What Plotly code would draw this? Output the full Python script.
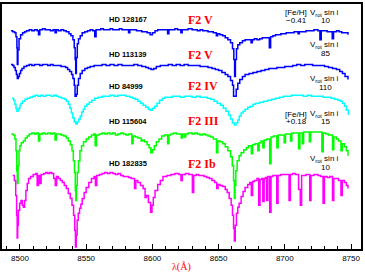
import plotly.graph_objects as go

# ---------------- data (wavelength in Angstrom, normalised flux) ----------------
stars = ["HD 128167", "HD 113139", "HD 84999", "HD 115604", "HD 182835"]
sptypes = ["F2 V", "F2 V", "F2 IV", "F2 III", "F2 Ib"]
vsini = ["10", "85", "110", "15", "10"]
feh = ["\u22120.41", None, None, "+0.18", None]
offsets = [1.20, 0.85, 0.54, 0.16, -0.24]
colors = ["#0000ff", "#0000ff", "#00ffff", "#00ff00", "#ff00ff"]

w1 = [8493.2, 8494.5, 8496.0, 8497.0, 8497.7, 8498.0, 8498.5, 8499.3, 8500.5, 8502.0, 8503.5, 8505.0,
      8507.0, 8509.0, 8511.0, 8513.0, 8514.0, 8515.0, 8517.0, 8519.0, 8521.0, 8523.0, 8525.0, 8526.5,
      8527.5, 8529.0, 8531.0, 8533.0, 8535.0, 8537.0, 8538.5, 8540.0, 8541.0, 8541.7, 8542.1, 8542.6,
      8543.3, 8544.2, 8545.5, 8547.0, 8549.0, 8551.0, 8553.0, 8555.0, 8556.5, 8557.5, 8559.0, 8561.0,
      8563.0, 8566.0, 8568.0, 8570.0, 8572.0, 8575.0, 8577.0, 8579.0, 8582.0, 8583.0, 8585.0, 8588.0,
      8590.0, 8592.0, 8594.0, 8596.0, 8598.3, 8600.0, 8602.0, 8604.0, 8607.0, 8609.0, 8611.5, 8612.5,
      8614.0, 8617.0, 8619.0, 8621.5, 8622.5, 8625.0, 8627.0, 8630.0, 8632.0, 8634.0, 8636.0, 8638.0,
      8640.0, 8642.0, 8644.0, 8646.0, 8648.3, 8649.3, 8651.0, 8653.0, 8655.0, 8657.0, 8659.0, 8660.5,
      8661.5, 8662.1, 8662.7, 8663.5, 8664.5, 8666.0, 8668.0, 8670.0, 8672.0, 8674.5, 8675.5, 8677.0,
      8679.0, 8681.0, 8683.0, 8685.0, 8688.3, 8689.3, 8691.0, 8693.0, 8695.0, 8697.0, 8699.0, 8701.0,
      8703.0, 8705.0, 8707.0, 8710.0, 8711.0, 8713.0, 8716.0, 8719.0, 8722.0, 8725.0, 8726.5, 8727.5,
      8730.0, 8732.0, 8735.8, 8736.8, 8739.0, 8741.0, 8743.0, 8745.0, 8747.7]
f1 = [1.00, 0.99, 0.98, 0.94, 0.83, 0.66, 0.81, 0.92, 0.96, 0.98, 0.99, 1.00,
      1.01, 1.00, 1.01, 1.00, 0.96, 1.01, 1.02, 1.01, 1.01, 1.00, 1.01, 0.98,
      1.01, 1.00, 1.01, 1.00, 0.99, 0.97, 0.95, 0.91, 0.83, 0.71, 0.57, 0.73,
      0.87, 0.92, 0.95, 0.98, 0.99, 1.00, 1.01, 1.00, 0.94, 1.01, 1.01, 1.02,
      1.01, 1.01, 1.02, 1.01, 1.01, 1.02, 1.01, 1.01, 0.98, 1.01, 1.01, 1.00,
      1.00, 0.99, 0.99, 0.98, 0.96, 0.98, 1.00, 1.01, 1.01, 1.01, 0.97, 1.01,
      1.01, 1.02, 1.01, 0.98, 1.01, 1.01, 1.02, 1.01, 1.01, 1.00, 1.01, 1.00,
      1.00, 0.99, 0.99, 0.98, 0.95, 0.97, 0.96, 0.95, 0.93, 0.91, 0.88, 0.82,
      0.71, 0.54, 0.71, 0.82, 0.86, 0.88, 0.90, 0.91, 0.91, 0.88, 0.91, 0.92,
      0.91, 0.92, 0.93, 0.93, 0.83, 0.94, 0.95, 0.96, 0.96, 0.97, 0.97, 0.98,
      0.98, 0.98, 0.99, 0.97, 0.99, 0.99, 1.00, 1.00, 1.01, 1.00, 0.91, 1.00,
      1.00, 0.99, 0.92, 0.99, 1.00, 0.99, 0.98, 0.98, 0.96]

w2 = [8493.2, 8494.5, 8495.5, 8496.5, 8497.3, 8498.0, 8498.8, 8499.6, 8500.5, 8501.5, 8503.0, 8505.0,
      8507.0, 8509.0, 8511.0, 8513.0, 8515.0, 8517.0, 8519.0, 8521.0, 8523.0, 8525.0, 8527.0, 8529.0,
      8531.0, 8533.0, 8534.5, 8536.0, 8537.5, 8539.0, 8540.0, 8541.0, 8541.6, 8542.6, 8543.3, 8544.2,
      8545.5, 8547.0, 8549.0, 8551.0, 8553.0, 8556.0, 8559.0, 8562.0, 8565.0, 8568.0, 8571.0, 8574.0,
      8577.0, 8580.0, 8583.0, 8586.0, 8589.0, 8592.0, 8595.0, 8597.0, 8599.0, 8601.0, 8603.0, 8606.0,
      8609.0, 8612.0, 8615.0, 8618.0, 8621.0, 8624.0, 8627.0, 8630.0, 8633.0, 8636.0, 8639.0, 8642.0,
      8645.0, 8647.5, 8650.0, 8652.5, 8655.0, 8657.0, 8659.0, 8660.5, 8661.3, 8662.5, 8663.3, 8664.5,
      8666.0, 8668.0, 8670.0, 8673.0, 8676.0, 8679.0, 8682.0, 8685.0, 8688.0, 8691.0, 8694.0, 8697.0,
      8700.0, 8703.0, 8706.0, 8709.0, 8712.0, 8715.0, 8718.0, 8721.0, 8724.0, 8727.0, 8730.0, 8733.0,
      8736.0, 8739.0, 8741.5, 8743.5, 8745.5, 8747.7]
f2 = [1.01, 1.00, 0.98, 0.95, 0.91, 0.87, 0.89, 0.92, 0.95, 0.97, 0.99, 1.00,
      1.01, 1.00, 1.01, 1.01, 1.00, 1.01, 1.01, 1.00, 1.01, 1.00, 1.00, 1.00,
      0.99, 0.99, 0.98, 0.96, 0.94, 0.91, 0.87, 0.80, 0.69, 0.71, 0.80, 0.87,
      0.92, 0.95, 0.97, 0.98, 0.99, 1.00, 1.00, 1.01, 1.00, 1.01, 1.00, 1.01,
      1.00, 1.00, 1.00, 1.01, 1.00, 0.99, 0.98, 0.97, 0.96, 0.97, 0.99, 1.00,
      1.00, 1.01, 1.00, 1.01, 1.00, 1.01, 1.00, 1.00, 1.00, 0.99, 0.99, 0.98,
      0.97, 0.96, 0.95, 0.93, 0.91, 0.89, 0.85, 0.80, 0.69, 0.69, 0.76, 0.82,
      0.86, 0.89, 0.91, 0.92, 0.93, 0.94, 0.95, 0.96, 0.97, 0.97, 0.98, 0.98,
      0.99, 0.99, 1.00, 1.01, 1.00, 1.01, 1.01, 1.00, 1.00, 1.00, 0.99, 0.98,
      0.97, 0.96, 0.94, 0.92, 0.89, 0.86]

w3 = [8494.0, 8495.2, 8496.2, 8497.0, 8497.7, 8498.5, 8499.2, 8500.0, 8500.8, 8502.0, 8503.8, 8505.5,
      8507.5, 8509.5, 8511.5, 8513.5, 8515.5, 8517.5, 8519.5, 8521.5, 8523.5, 8525.5, 8527.5, 8529.5,
      8531.5, 8533.5, 8535.0, 8536.5, 8537.7, 8538.8, 8539.9, 8541.0, 8542.2, 8543.3, 8544.4, 8545.5,
      8546.6, 8547.8, 8549.0, 8550.5, 8552.3, 8554.2, 8556.5, 8559.0, 8562.0, 8565.0, 8568.0, 8571.0,
      8574.0, 8577.0, 8580.0, 8583.0, 8585.0, 8587.0, 8589.0, 8591.0, 8593.0, 8595.0, 8597.0, 8598.5,
      8600.0, 8601.7, 8603.5, 8605.4, 8607.5, 8609.5, 8612.0, 8615.0, 8618.0, 8621.0, 8624.0, 8627.0,
      8630.0, 8633.0, 8636.0, 8639.0, 8641.5, 8644.0, 8646.5, 8649.0, 8651.5, 8653.5, 8655.5, 8657.5,
      8659.0, 8660.4, 8661.9, 8663.2, 8664.4, 8665.6, 8667.0, 8668.5, 8670.0, 8672.0, 8674.0, 8676.0,
      8678.0, 8681.0, 8684.0, 8687.0, 8690.0, 8693.0, 8696.0, 8699.0, 8702.0, 8705.0, 8708.0, 8711.0,
      8714.0, 8717.0, 8720.0, 8723.0, 8726.0, 8729.0, 8732.0, 8735.0, 8737.5, 8740.0, 8742.0, 8743.5,
      8745.0, 8746.5, 8748.0]
f3 = [0.98, 0.96, 0.92, 0.88, 0.85, 0.86, 0.88, 0.91, 0.93, 0.95, 0.97, 0.98,
      0.99, 1.00, 1.01, 1.00, 1.01, 1.00, 1.01, 1.01, 1.00, 1.01, 1.00, 0.99,
      0.98, 0.97, 0.95, 0.92, 0.88, 0.83, 0.78, 0.74, 0.72, 0.74, 0.77, 0.80,
      0.84, 0.87, 0.90, 0.92, 0.94, 0.96, 0.98, 0.99, 1.00, 1.00, 1.01, 1.00,
      1.01, 1.01, 1.00, 0.99, 0.98, 0.97, 0.95, 0.93, 0.91, 0.89, 0.87, 0.86,
      0.88, 0.90, 0.93, 0.96, 0.98, 0.99, 0.99, 1.00, 1.00, 0.99, 1.00, 1.00,
      0.99, 1.00, 0.99, 0.99, 0.98, 0.97, 0.95, 0.93, 0.91, 0.88, 0.85, 0.81,
      0.77, 0.73, 0.71, 0.73, 0.76, 0.80, 0.83, 0.85, 0.87, 0.89, 0.90, 0.92,
      0.93, 0.94, 0.95, 0.96, 0.97, 0.98, 0.99, 1.00, 1.00, 1.01, 1.01, 1.01,
      1.00, 1.01, 1.00, 1.00, 1.00, 0.99, 0.99, 0.98, 0.97, 0.96, 0.95, 0.93,
      0.90, 0.86, 0.81]

w4 = [8493.5, 8495.0, 8496.2, 8497.0, 8497.6, 8498.0, 8498.6, 8499.3, 8500.0, 8501.0, 8502.5, 8504.0,
      8505.5, 8507.0, 8509.0, 8511.0, 8512.5, 8514.0, 8515.0, 8517.0, 8519.0, 8521.0, 8523.0, 8525.0,
      8526.5, 8527.5, 8529.0, 8531.0, 8533.0, 8535.0, 8536.5, 8538.0, 8539.3, 8540.3, 8541.2, 8541.8,
      8542.2, 8542.7, 8543.3, 8544.2, 8545.3, 8546.5, 8548.0, 8550.0, 8552.0, 8554.0, 8555.8, 8556.8,
      8557.8, 8560.0, 8562.0, 8564.0, 8566.0, 8568.0, 8570.0, 8572.0, 8574.0, 8576.0, 8578.0, 8580.0,
      8582.0, 8584.5, 8585.5, 8587.0, 8589.0, 8591.5, 8592.5, 8594.0, 8596.0, 8597.5, 8598.8, 8600.0,
      8601.5, 8603.0, 8605.0, 8607.0, 8609.0, 8611.5, 8612.5, 8614.0, 8616.0, 8618.0, 8620.0, 8621.8,
      8622.8, 8624.2, 8625.2, 8627.0, 8630.0, 8632.0, 8634.0, 8636.0, 8638.0, 8640.0, 8642.0, 8644.0,
      8646.0, 8648.4, 8649.4, 8651.0, 8653.0, 8655.0, 8657.0, 8659.0, 8660.3, 8661.3, 8661.9, 8662.4,
      8663.0, 8664.0, 8665.5, 8667.0, 8669.0, 8671.0, 8672.5, 8674.7, 8675.7, 8677.5, 8679.6, 8680.6,
      8682.0, 8683.4, 8684.4, 8686.5, 8688.6, 8689.6, 8691.5, 8694.0, 8695.0, 8697.0, 8699.5, 8700.5,
      8702.5, 8704.3, 8705.3, 8707.5, 8710.4, 8711.4, 8713.2, 8714.2, 8716.0, 8718.5, 8719.5, 8722.0,
      8725.0, 8728.0, 8729.0, 8731.0, 8733.0, 8736.0, 8737.0, 8739.0, 8740.5, 8742.4, 8743.4, 8745.0,
      8746.5, 8747.7]
f4 = [1.00, 0.99, 0.95, 0.83, 0.63, 0.50, 0.68, 0.83, 0.88, 0.91, 0.93, 0.96,
      0.98, 1.00, 1.01, 1.00, 1.01, 0.93, 1.00, 1.01, 1.00, 1.01, 1.00, 1.01,
      0.94, 1.00, 1.00, 0.99, 0.98, 0.96, 0.93, 0.89, 0.83, 0.73, 0.61, 0.43,
      0.33, 0.48, 0.61, 0.73, 0.83, 0.88, 0.92, 0.95, 0.97, 0.99, 1.00, 0.88,
      0.99, 1.00, 1.01, 1.00, 1.01, 1.00, 1.01, 0.99, 1.00, 1.01, 1.00, 0.99,
      1.00, 0.90, 0.98, 0.97, 0.96, 0.93, 0.94, 0.92, 0.89, 0.86, 0.81, 0.84,
      0.88, 0.92, 0.95, 0.98, 0.99, 0.90, 0.99, 1.00, 1.01, 1.00, 1.00, 0.96,
      1.00, 0.97, 1.00, 1.01, 1.00, 1.01, 1.00, 0.99, 1.00, 0.99, 0.98, 0.97,
      0.95, 0.81, 0.93, 0.92, 0.90, 0.87, 0.83, 0.77, 0.68, 0.53, 0.35, 0.48,
      0.63, 0.73, 0.78, 0.81, 0.84, 0.86, 0.88, 0.80, 0.89, 0.90, 0.83, 0.91,
      0.93, 0.86, 0.94, 0.95, 0.70, 0.97, 0.98, 0.86, 0.99, 0.99, 0.91, 1.00,
      1.00, 0.93, 1.01, 1.01, 0.85, 1.01, 0.90, 1.02, 1.02, 0.92, 1.02, 1.02,
      1.02, 0.82, 1.01, 1.00, 0.99, 0.84, 0.97, 0.95, 0.93, 0.83, 0.90, 0.87,
      0.83, 0.78]

w5 = [8494.5, 8495.8, 8496.8, 8497.5, 8497.9, 8498.3, 8498.8, 8499.8, 8500.8, 8501.8, 8502.6, 8503.5,
      8504.5, 8505.5, 8506.5, 8508.0, 8510.0, 8512.0, 8513.0, 8514.0, 8515.0, 8516.0, 8518.0, 8519.5,
      8521.0, 8522.5, 8524.0, 8525.5, 8526.7, 8527.7, 8529.0, 8530.5, 8532.0, 8533.5, 8535.0, 8536.5,
      8538.0, 8539.3, 8540.5, 8541.4, 8541.9, 8542.5, 8543.2, 8544.0, 8545.0, 8546.0, 8547.0, 8548.5,
      8550.0, 8552.0, 8554.0, 8556.0, 8557.0, 8558.0, 8560.0, 8562.0, 8564.0, 8566.0, 8568.0, 8570.0,
      8572.0, 8574.0, 8576.0, 8578.0, 8580.0, 8582.0, 8584.0, 8586.5, 8587.5, 8589.0, 8591.0, 8593.0,
      8594.5, 8595.5, 8597.0, 8598.6, 8599.7, 8600.7, 8602.0, 8604.0, 8606.0, 8608.0, 8611.0, 8614.0,
      8617.0, 8620.0, 8621.6, 8622.6, 8625.0, 8627.5, 8630.2, 8631.2, 8633.0, 8635.0, 8637.0, 8639.0,
      8641.0, 8643.0, 8645.0, 8647.0, 8648.6, 8649.6, 8651.0, 8653.0, 8655.0, 8656.5, 8658.0, 8659.5,
      8660.5, 8661.3, 8661.9, 8662.6, 8663.5, 8664.5, 8665.5, 8667.0, 8668.5, 8670.0, 8672.0, 8673.5,
      8674.7, 8675.7, 8677.0, 8679.0, 8680.3, 8681.3, 8682.6, 8683.4, 8684.4, 8685.4, 8686.2, 8687.2,
      8688.6, 8689.6, 8691.0, 8693.9, 8694.9, 8697.0, 8699.0, 8701.0, 8703.2, 8704.2, 8706.0, 8708.0,
      8710.4, 8711.7, 8712.7, 8714.0, 8716.0, 8718.8, 8719.8, 8722.0, 8725.0, 8727.0, 8728.9, 8729.9,
      8732.0, 8734.0, 8736.0, 8737.0, 8739.0, 8740.5, 8742.4, 8743.4, 8745.0, 8746.5, 8747.7]
f5 = [0.98, 0.93, 0.78, 0.58, 0.35, 0.48, 0.63, 0.70, 0.73, 0.68, 0.66, 0.73,
      0.83, 0.90, 0.95, 0.97, 0.99, 1.00, 0.88, 0.98, 0.90, 0.99, 1.00, 1.01,
      1.00, 1.01, 1.00, 0.95, 0.88, 0.97, 0.95, 0.93, 0.91, 0.88, 0.85, 0.80,
      0.75, 0.68, 0.58, 0.43, 0.26, 0.38, 0.53, 0.60, 0.65, 0.69, 0.75, 0.81,
      0.86, 0.91, 0.95, 0.97, 0.88, 0.98, 0.99, 1.00, 1.01, 1.00, 1.01, 1.00,
      0.99, 1.00, 0.98, 0.97, 0.97, 0.96, 0.95, 0.85, 0.93, 0.91, 0.88, 0.85,
      0.76, 0.78, 0.71, 0.61, 0.68, 0.76, 0.83, 0.89, 0.93, 0.97, 0.98, 0.99,
      1.00, 0.99, 0.93, 0.99, 1.00, 0.99, 0.81, 0.98, 0.99, 0.98, 0.98, 0.97,
      0.96, 0.95, 0.93, 0.91, 0.85, 0.89, 0.88, 0.87, 0.84, 0.81, 0.75, 0.68,
      0.58, 0.45, 0.32, 0.48, 0.60, 0.66, 0.70, 0.77, 0.82, 0.86, 0.89, 0.91,
      0.78, 0.92, 0.93, 0.95, 0.68, 0.94, 0.95, 0.72, 0.95, 0.96, 0.73, 0.97,
      0.61, 0.97, 0.98, 0.70, 0.98, 0.99, 0.99, 0.99, 0.73, 0.99, 1.00, 0.99,
      0.84, 0.68, 0.98, 0.98, 0.99, 0.73, 0.98, 0.99, 0.98, 0.97, 0.70, 0.97,
      0.96, 0.97, 0.73, 0.95, 0.95, 0.93, 0.78, 0.93, 0.91, 0.88, 0.85]

waves = [w1, w2, w3, w4, w5]
fluxes = [f1, f2, f3, f4, f5]

# ---------------- figure ----------------
fig = go.Figure()
for w, f, off, col in zip(waves, fluxes, offsets, colors):
    fig.add_trace(go.Scatter(x=w, y=[v + off for v in f], mode="lines",
                             line=dict(color=col, width=1.5, shape="hv"),
                             showlegend=False, hoverinfo="skip"))

# label positions (data coordinates)
label_y = [2.31, 1.96, 1.64, 1.29, 0.86]
head_y = [2.38, 2.06, 1.71, 1.36, 0.91]
val_y = [2.30, 1.97, 1.625, 1.285, 0.82]

ann = []
for i in range(5):
    ann.append(dict(x=8566.0, y=label_y[i], text="<b>" + stars[i] + "</b>", showarrow=False,
                    xanchor="left", yanchor="middle",
                    font=dict(family="Liberation Sans", size=7.5, color="black")))
    ann.append(dict(x=8625.3, y=label_y[i], text="<b>" + sptypes[i] + "</b>", showarrow=False,
                    xanchor="left", yanchor="middle",
                    font=dict(family="Liberation Serif", size=12, color="#ff0000")))
    ann.append(dict(x=8730.0, y=head_y[i], text="V<sub>rot</sub> sin i", showarrow=False,
                    xanchor="center", yanchor="middle",
                    font=dict(family="Liberation Sans", size=8, color="black")))
    ann.append(dict(x=8730.5, y=val_y[i], text=vsini[i], showarrow=False,
                    xanchor="center", yanchor="middle",
                    font=dict(family="Liberation Sans", size=8, color="black")))
    if feh[i] is not None:
        ann.append(dict(x=8708.5, y=head_y[i], text="[Fe/H]", showarrow=False,
                        xanchor="center", yanchor="middle",
                        font=dict(family="Liberation Sans", size=8, color="black")))
        ann.append(dict(x=8708.5, y=val_y[i], text=feh[i], showarrow=False,
                        xanchor="center", yanchor="middle",
                        font=dict(family="Liberation Sans", size=8, color="black")))

ann.append(dict(x=0.5, y=-0.073, xref="paper", yref="paper", text="\u03bb(\u00c5)", showarrow=False,
                xanchor="center", yanchor="middle",
                font=dict(family="Liberation Serif", size=10, color="#ff0000")))

fig.update_layout(
    width=365, height=272,
    margin=dict(l=2, r=3, t=2, b=23),
    paper_bgcolor="white", plot_bgcolor="white",
    annotations=ann,
    xaxis=dict(range=[8486.45, 8757.53], showgrid=False, zeroline=False,
               showline=True, linecolor="black", linewidth=2, mirror=True,
               ticks="inside", ticklen=5, tickwidth=1, tickcolor="black",
               tick0=8500, dtick=50,
               minor=dict(ticks="inside", ticklen=3, dtick=10, tick0=8500, tickcolor="black"),
               tickfont=dict(family="Liberation Sans", size=8, color="black")),
    yaxis=dict(range=[0, 2.47], showgrid=False, zeroline=False, showticklabels=False,
               showline=True, linecolor="black", linewidth=2, mirror=True, ticks=""),
)

fig.write_html("out.html", config={"displayModeBar": False, "staticPlot": True},
               post_script="document.body.style.margin='0px';document.body.style.overflow='hidden';")
